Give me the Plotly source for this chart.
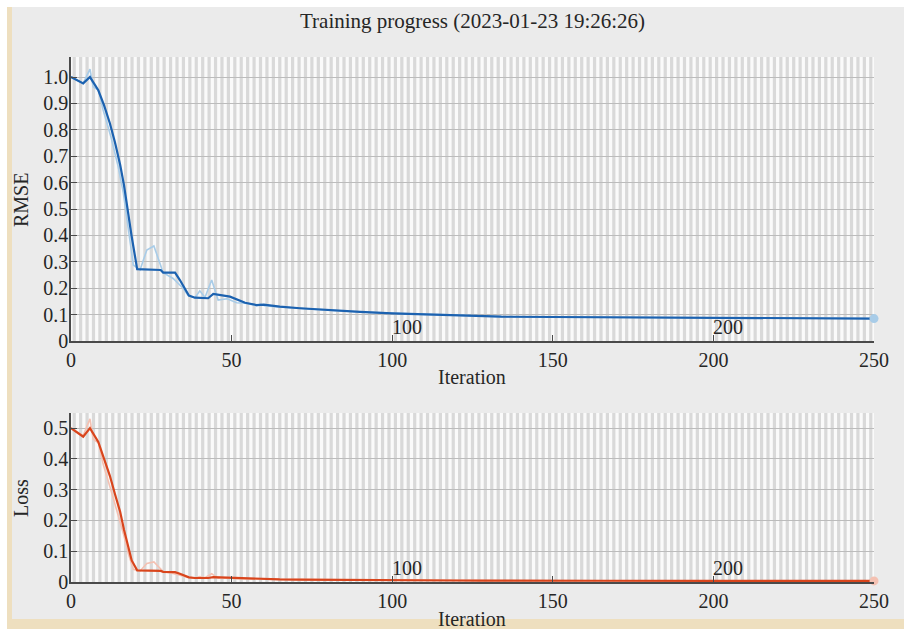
import plotly.graph_objects as go

W, H = 904, 629

# ---- data -------------------------------------------------------------
# RMSE, smoothed curve (vertices)
rmse_smooth_it = [0, 3.8, 5.9, 8.5, 10.3, 12.1, 13.7, 15.3, 16.5, 17.7, 18.9, 20.6, 27.9, 28.7,
                  32.4, 33.9, 36.7, 38.6, 42.7, 44.3, 49.5, 54.2, 57.8, 60, 65, 71.3, 80, 90,
                  100, 110, 120, 128, 134, 150, 165, 200, 250]
rmse_smooth = [1.0, 0.976, 1.0, 0.95, 0.893, 0.825, 0.752, 0.668, 0.59, 0.49, 0.395, 0.272,
               0.269, 0.259, 0.259, 0.231, 0.172, 0.164, 0.162, 0.178, 0.168, 0.145, 0.136,
               0.138, 0.130, 0.124, 0.117, 0.110, 0.105, 0.101, 0.098, 0.096, 0.092, 0.091,
               0.090, 0.088, 0.085]

# RMSE, raw per-iteration curve (vertices)
rmse_raw_it = [0, 3.8, 5.9, 6.9, 8.6, 10, 12.4, 14.7, 16.3, 17.8, 19.4, 21.5, 23.6, 25.8, 27.7,
               28.7, 31.8, 34.9, 36.5, 38.6, 40.1, 41.7, 43.8, 45.8, 48.6, 51.6, 54.2,
               57.8, 59, 60.5, 65, 71.3, 80, 90, 100, 110, 120, 128, 134, 150, 165, 200, 250]
rmse_raw = [1.0, 0.976, 1.03, 0.963, 0.95, 0.875, 0.775, 0.66, 0.56, 0.433, 0.288, 0.269, 0.345,
            0.36, 0.294, 0.259, 0.237, 0.2, 0.172, 0.164, 0.19, 0.165, 0.231, 0.155, 0.16, 0.145,
            0.143, 0.134, 0.140, 0.133, 0.129, 0.123, 0.117, 0.110, 0.105, 0.101, 0.098, 0.096,
            0.092, 0.091, 0.090, 0.088, 0.085]

# Loss, smoothed curve (vertices)
loss_smooth_it = rmse_smooth_it
loss_smooth = [0.5, 0.472, 0.5, 0.455, 0.4, 0.345, 0.285, 0.228, 0.17, 0.115, 0.07, 0.038,
               0.036, 0.033, 0.032, 0.027, 0.015, 0.013, 0.013, 0.016, 0.014, 0.011, 0.0093,
               0.0095, 0.0085, 0.0077, 0.0068, 0.006, 0.0055, 0.0051, 0.0048, 0.0046, 0.0042,
               0.0041, 0.004, 0.0039, 0.0036]

# Loss, raw per-iteration curve (vertices)
loss_raw_it = rmse_raw_it
loss_raw = [0.5, 0.476, 0.53, 0.464, 0.451, 0.383, 0.3, 0.218, 0.157, 0.094, 0.041, 0.036, 0.06,
            0.065, 0.043, 0.034, 0.028, 0.02, 0.015, 0.013, 0.018, 0.014, 0.027, 0.012, 0.013,
            0.011, 0.0102, 0.009, 0.0098, 0.0088, 0.0083, 0.0076, 0.0068, 0.006, 0.0055, 0.0051,
            0.0048, 0.0046, 0.0042, 0.0041, 0.004, 0.0039, 0.0036]

last_iteration = 250
x_tick_vals = [0, 50, 100, 150, 200, 250]
epoch_label_vals = [100, 200]
rmse_ticks = [0, 0.1, 0.2, 0.3, 0.4, 0.5, 0.6, 0.7, 0.8, 0.9, 1.0]
rmse_tick_text = ["0", "0.1", "0.2", "0.3", "0.4", "0.5", "0.6", "0.7", "0.8", "0.9", "1.0"]
loss_ticks = [0, 0.1, 0.2, 0.3, 0.4, 0.5]
loss_tick_text = ["0", "0.1", "0.2", "0.3", "0.4", "0.5"]

# ---- styling ----------------------------------------------------------
FONT = "Liberation Serif"
TXT = "#262626"
AX = "#4a4a4a"
BLUE = "#1c62b0"
BLUE_L = "#a8cce8"
RED = "#d9451c"
RED_L = "#f4c1b2"
STRIPE = "#d9d9d9"
GRID = "#bcbcbc"
BEIGE = "#eedfbf"


def px_x(p):
    return p / W


def px_y(p):
    return 1 - p / H


fig = go.Figure()

fig.add_trace(go.Scatter(x=rmse_raw_it, y=rmse_raw, mode="lines",
                         line=dict(color=BLUE_L, width=1.6), xaxis="x", yaxis="y",
                         showlegend=False))
fig.add_trace(go.Scatter(x=rmse_smooth_it, y=rmse_smooth, mode="lines",
                         line=dict(color=BLUE, width=2.2), xaxis="x", yaxis="y",
                         showlegend=False))
fig.add_trace(go.Scatter(x=[rmse_raw_it[-1]], y=[rmse_raw[-1]], mode="markers",
                         marker=dict(color=BLUE_L, size=9), cliponaxis=False,
                         xaxis="x", yaxis="y", showlegend=False))

fig.add_trace(go.Scatter(x=loss_raw_it, y=loss_raw, mode="lines",
                         line=dict(color=RED_L, width=1.6), xaxis="x2", yaxis="y2",
                         showlegend=False))
fig.add_trace(go.Scatter(x=loss_smooth_it, y=loss_smooth, mode="lines",
                         line=dict(color=RED, width=2.2), xaxis="x2", yaxis="y2",
                         showlegend=False))
fig.add_trace(go.Scatter(x=[loss_raw_it[-1]], y=[loss_raw[-1]], mode="markers",
                         marker=dict(color=RED_L, size=9), cliponaxis=False,
                         xaxis="x2", yaxis="y2", showlegend=False))

shapes = []
# alternating epoch shading
for xr, yr in (("x", "y"), ("x2", "y2")):
    for start in range(0, last_iteration, 2):
        shapes.append(dict(type="rect", xref=xr, yref=f"{yr} domain",
                           x0=start + 0.5, x1=min(start + 1.5, last_iteration), y0=0, y1=1,
                           fillcolor=STRIPE, line=dict(width=0), layer="below"))

# window frame strips
shapes += [
    dict(type="rect", xref="paper", yref="paper", x0=0, x1=1, y0=px_y(7), y1=1,
         fillcolor="#ffffff", line=dict(width=0), layer="above"),
    dict(type="rect", xref="paper", yref="paper", x0=0, x1=px_x(7), y0=0, y1=1,
         fillcolor="#ffffff", line=dict(width=0), layer="above"),
    dict(type="rect", xref="paper", yref="paper", x0=px_x(7), x1=px_x(12), y0=0, y1=px_y(7),
         fillcolor=BEIGE, line=dict(width=0), layer="above"),
    dict(type="rect", xref="paper", yref="paper", x0=px_x(7), x1=1, y0=0, y1=px_y(619),
         fillcolor=BEIGE, line=dict(width=0), layer="above"),
]

tickfont = dict(family=FONT, size=20, color=TXT)
xdom = [px_x(71), px_x(874)]
common_x = dict(range=[0, last_iteration], tickvals=x_tick_vals, ticks="inside", ticklen=6,
                tickcolor=AX, showline=True, linecolor=AX, linewidth=1.5, showgrid=False,
                zeroline=False, tickfont=tickfont, domain=xdom, fixedrange=True,
                automargin=False)
common_y = dict(ticks="inside", ticklen=6, tickcolor=AX, showline=True, linecolor=AX,
                linewidth=1.5, showgrid=True, gridcolor=GRID, gridwidth=1, zeroline=False,
                tickfont=tickfont, fixedrange=True, automargin=False, ticklabelstandoff=-3)


def label(text, x, y, size=20, angle=0):
    return dict(text=text, xref="paper", yref="paper", x=px_x(x), y=px_y(y),
                xanchor="center", yanchor="middle", textangle=angle, showarrow=False,
                font=dict(family=FONT, size=size, color=TXT))


annotations = [
    label("Training progress (2023-01-23 19:26:26)", 473, 21, size=21),
    label("RMSE", 21, 200, angle=-90),
    label("Loss", 21, 498, angle=-90),
    label("Iteration", 472, 377),
    label("Iteration", 472, 619),
]
for xr, yr in (("x", "y domain"), ("x2", "y2 domain")):
    for v in epoch_label_vals:
        annotations.append(dict(text=str(v), xref=xr, yref=yr, x=v, y=0, xanchor="left",
                                yanchor="bottom", xshift=-2, yshift=1, showarrow=False,
                                font=dict(family=FONT, size=20, color=TXT)))

fig.update_layout(
    width=W, height=H,
    autosize=False,
    margin=dict(l=0, r=0, t=0, b=0, pad=0),
    paper_bgcolor="#ebebeb",
    plot_bgcolor="#fafafa",
    xaxis=dict(common_x, anchor="y"),
    yaxis=dict(common_y, range=[0, 1.076], tickvals=rmse_ticks, ticktext=rmse_tick_text,
               domain=[px_y(341), px_y(57)], anchor="x"),
    xaxis2=dict(common_x, anchor="y2"),
    yaxis2=dict(common_y, range=[0, 0.549], tickvals=loss_ticks, ticktext=loss_tick_text,
                domain=[px_y(582), px_y(413)], anchor="x2"),
    shapes=shapes,
    annotations=annotations,
    showlegend=False,
)

# the page holds only the figure: no body margin, no scrollbars
page_css = "document.body.style.margin='0';document.body.style.overflow='hidden';"

fig.write_html("out.html", config={"responsive": False, "displayModeBar": False},
               post_script=page_css)
